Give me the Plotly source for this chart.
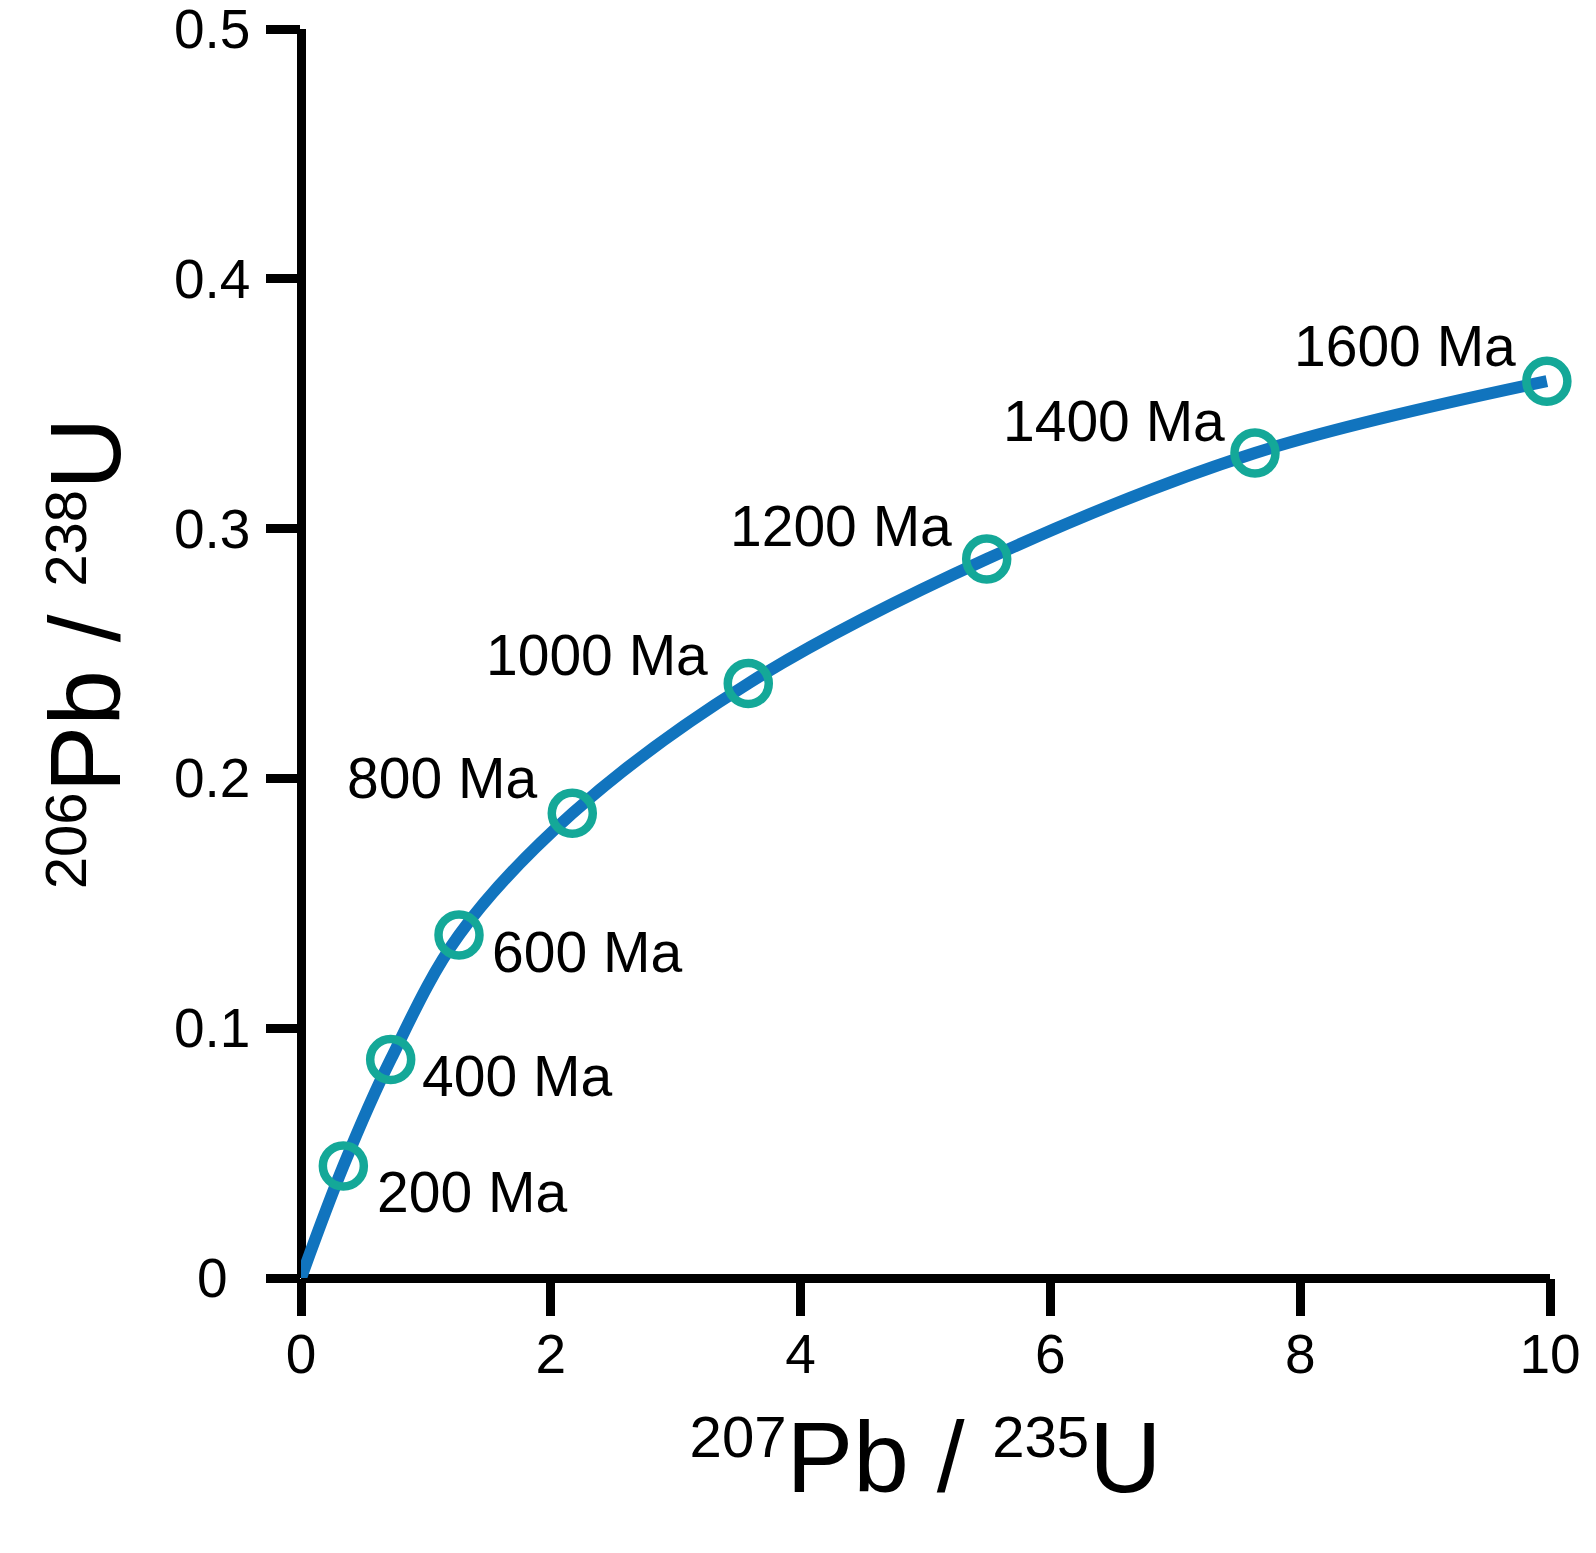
import plotly.graph_objects as go

# ---- data ----
ages = ["200 Ma", "400 Ma", "600 Ma", "800 Ma", "1000 Ma", "1200 Ma", "1400 Ma", "1600 Ma"]
pb207_u235 = [0.339, 0.718, 1.265, 2.172, 3.581, 5.490, 7.638, 9.975]
pb206_u238 = [0.0448, 0.0875, 0.1373, 0.186, 0.238, 0.2878, 0.3303, 0.359]

curve_x = [0.0] + pb207_u235
curve_y = [0.0] + pb206_u238

x_ticks = [0, 2, 4, 6, 8, 10]
y_ticks = [0, 0.1, 0.2, 0.3, 0.4, 0.5]
y_tick_text = ["0", "0.1", "0.2", "0.3", "0.4", "0.5"]

# ---- styling ----
FONT = "Liberation Sans, Arial, Helvetica, sans-serif"
LINE_BLUE = "#1174be"
RING_TEAL = "#14a898"

# label placement relative to each point (pixels): (xanchor, xshift, yshift)
label_place = [
    ("left", 32, -26),
    ("left", 29, -17),
    ("left", 31, -17),
    ("right", -33, 35),
    ("right", -38, 28),
    ("right", -33, 33),
    ("right", -28, 32),
    ("right", -29, 35),
]

fig = go.Figure()
fig.add_trace(go.Scatter(
    x=curve_x, y=curve_y, mode="lines",
    line=dict(color=LINE_BLUE, width=12, shape="spline"),
    cliponaxis=False, hoverinfo="skip", showlegend=False,
))
fig.add_trace(go.Scatter(
    x=pb207_u235, y=pb206_u238, mode="markers",
    marker=dict(symbol="circle", size=41, color="rgba(0,0,0,0)",
                line=dict(color=RING_TEAL, width=8.5)),
    cliponaxis=False, text=ages, showlegend=False,
))

annotations = []
for name, xv, yv, (anc, xs, ys) in zip(ages, pb207_u235, pb206_u238, label_place):
    annotations.append(dict(
        x=xv, y=yv, xref="x", yref="y", text=name, showarrow=False,
        xanchor=anc, yanchor="middle", xshift=xs, yshift=ys,
        font=dict(family=FONT, size=57, color="black"),
    ))
for v, t in zip(y_ticks, y_tick_text):
    annotations.append(dict(
        x=-0.0709, y=v, xref="paper", yref="y", text=t, showarrow=False,
        xanchor="center", yanchor="middle", height=46,
        font=dict(family=FONT, size=55, color="black"),
    ))

x_title = ("<sup>207</sup><span style='font-size:100px'>Pb / </span>"
           "<sup>235</sup><span style='font-size:100px'>U</span>")
y_title = ("<sup>206</sup><span style='font-size:100px'>Pb / </span>"
           "<sup>238</sup><span style='font-size:100px'>U</span>")

# the page body adds an 8px margin, so the figure is 8px smaller than the window
fig.update_layout(
    width=1588, height=1545,
    margin=dict(l=293, r=46, t=21, b=275, autoexpand=False),
    paper_bgcolor="white", plot_bgcolor="white",
    font=dict(family=FONT, color="black"),
    annotations=annotations,
    xaxis=dict(
        range=[0, 10], tickvals=x_ticks, ticks="outside", ticklen=37, tickwidth=9,
        tickcolor="black", showline=False, showgrid=False, automargin=False,
        zeroline=True, zerolinewidth=9, zerolinecolor="black",
        tickfont=dict(family=FONT, size=55, color="black"),
        ticklabelstandoff=-9,
        title=dict(text=x_title, font=dict(family=FONT, size=83, color="black"), standoff=49),
    ),
    yaxis=dict(
        range=[0, 0.5], tickvals=y_ticks, ticks="outside", ticklen=34, tickwidth=9,
        tickcolor="black", showline=False, showgrid=False, showticklabels=False,
        automargin=False,
        zeroline=True, zerolinewidth=9, zerolinecolor="black",
        title=dict(text=y_title, font=dict(family=FONT, size=83, color="black"), standoff=117),
    ),
)

fig.write_html("out.html")
